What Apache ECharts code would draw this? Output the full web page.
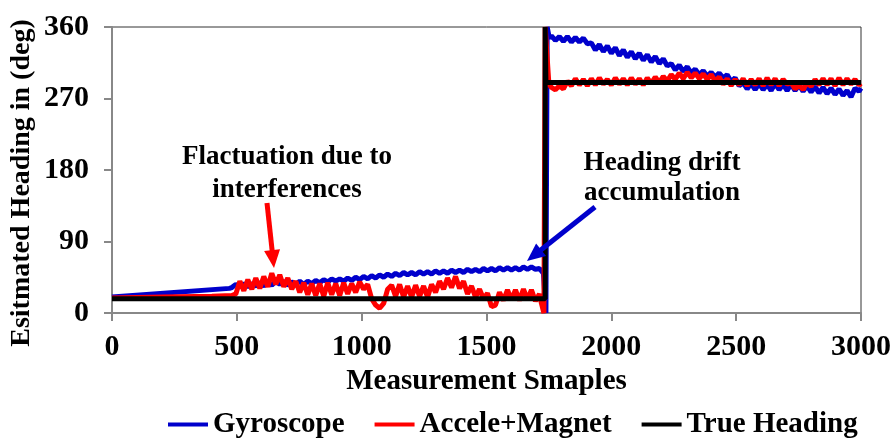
<!DOCTYPE html>
<html>
<head>
<meta charset="utf-8">
<script src="https://cdn.jsdelivr.net/npm/echarts@6/dist/echarts.min.js"></script>
<style>
    html, body {margin: 0; padding: 0; background: #fff;}
    #chart {width: 894px; height: 439px;}
</style>
</head>
<body>
<div id="chart"></div>
<script>
// samples between peak and trough readings
const step = 16;

const x_ticks = [0, 500, 1000, 1500, 2000, 2500, 3000];
const y_ticks = [0, 90, 180, 270, 360];

// Gyroscope
const gyro_pre = [[0, 20], [470, 31]];
const gyro_left_start = 480;
const gyro_left = [
    32, 36, 33, 37, 33, 37, 34, 38, 34, 39,
    35, 40, 36, 40, 35, 39, 36, 40, 36, 40,
    37, 41, 38, 42, 39, 43, 40, 43, 40, 44,
    41, 45, 42, 46, 43, 47, 44, 48, 45, 49,
    46, 50, 47, 51, 48, 51, 48, 52, 49, 52,
    49, 53, 50, 53, 50, 54, 51, 54, 51, 55,
    52, 55, 52, 56, 53, 56, 53, 57, 54, 57,
    54, 57, 54, 58, 55, 58, 55, 56
];
const gyro_jump = [[1728, 50], [1738, 0], [1741, 0], [1743, 360], [1752, 346]];
const gyro_right_start = 1760;
const gyro_right = [
    349, 343, 348, 342, 348, 341, 347, 341, 346, 339,
    340, 331, 338, 329, 336, 327, 334, 324, 331, 322,
    329, 320, 327, 318, 325, 316, 323, 314, 320, 311,
    314, 306, 312, 304, 310, 302, 307, 300, 305, 298,
    303, 297, 302, 296, 300, 291, 296, 286, 290, 282,
    289, 281, 289, 281, 288, 280, 289, 281, 288, 280,
    288, 280, 287, 279, 286, 278, 285, 277, 284, 276,
    283, 275, 282, 274, 280, 272, 283, 279
];
const gyro_end = [[3000, 283]];

// Accele+Magnet
const accel_pre = [[0, 19], [200, 20], [400, 21], [480, 22]];
const accel_left_start = 496;
const accel_left = [
    24, 40, 28, 42, 30, 44, 31, 46, 33, 50,
    36, 48, 33, 44, 30, 40, 26, 38, 23, 37,
    22, 37, 21, 38, 23, 37, 22, 38, 24, 37,
    26, 39, 30, 36, 18, 10, 6, 12, 30, 35,
    21, 36, 20, 34, 20, 35, 21, 34, 20, 36,
    26, 40, 30, 44, 32, 46, 31, 40, 24, 34,
    20, 30, 18, 25, 8, 10, 26, 16, 29, 17,
    29, 16, 30, 17, 29, 15, 24
];
const accel_jump = [[1720, 12], [1730, 0], [1735, 360], [1750, 288]];
const accel_right_start = 1760;
const accel_right = [
    284, 281, 286, 282, 292, 286, 295, 287, 294, 286,
    295, 287, 296, 288, 294, 287, 296, 288, 295, 287,
    296, 288, 295, 287, 296, 289, 297, 290, 298, 292,
    300, 294, 302, 295, 303, 296, 302, 295, 301, 294,
    300, 292, 297, 288, 295, 286, 294, 287, 295, 286,
    294, 287, 295, 286, 296, 287, 295, 286, 294, 288,
    290, 282, 287, 281, 290, 285, 294, 287, 295, 287,
    295, 286, 296, 287, 295, 288, 294, 287
];
const accel_end = [[3000, 289]];

// True Heading
const truth = [[0, 18], [1735, 18], [1735, 360], [1738, 290], [3000, 290]];

function build_series(pre, start, vals, jump, right_start, right_vals, end) {
    let data = pre.slice();
    vals.forEach((v, i) => data.push([start + i * step, v]));
    jump.forEach((p) => data.push(p));
    right_vals.forEach((v, i) => data.push([right_start + i * step, v]));
    end.forEach((p) => data.push(p));
    return data;
}

const gyro_data = build_series(gyro_pre, gyro_left_start, gyro_left, gyro_jump, gyro_right_start, gyro_right, gyro_end);
const accel_data = build_series(accel_pre, accel_left_start, accel_left, accel_jump, accel_right_start, accel_right, accel_end);

const font = "'Liberation Serif', 'Times New Roman', serif";
const txt = {fontFamily: font, fontWeight: 'bold', color: '#000'};

function arrow(x1, y1, x2, y2, color) {
    // shaft plus triangular head, in pixels of the annotation layer
    const dx = x2 - x1, dy = y2 - y1;
    const len = Math.sqrt(dx * dx + dy * dy);
    const ux = dx / len, uy = dy / len;
    const bx = x2 - ux * 18, by = y2 - uy * 18;
    const px = -uy * 8, py = ux * 8;
    return [{
        type: 'line', silent: true, z: 100,
        shape: {x1: x1, y1: y1, x2: bx + ux * 2, y2: by + uy * 2},
        style: {stroke: color, lineWidth: 5}
    }, {
        type: 'polygon', silent: true, z: 100,
        shape: {points: [[bx + px, by + py], [bx - px, by - py], [x2, y2]]},
        style: {fill: color}
    }];
}

function note(text, x, y) {
    return {
        type: 'text', x: x, y: y,
        style: {text: text, fontSize: 27, fontFamily: font, fontWeight: 'bold',
            fill: '#000', align: 'center', verticalAlign: 'middle'}
    };
}

let option = {
    animation: false,
    backgroundColor: '#fff',
    grid: {
        left: 112, right: 32, top: 27, bottom: 126,
        show: true, borderColor: '#333', borderWidth: 1
    },
    legend: {
        left: 163, top: 405,
        itemWidth: 40, itemHeight: 4, itemGap: 30,
        icon: 'rect',
        textStyle: {fontFamily: font, fontWeight: 'bold', fontSize: 29, color: '#000'},
        data: ['Gyroscope', 'Accele+Magnet', 'True Heading']
    },
    xAxis: {
        type: 'value', min: 0, max: 3000, interval: 500,
        name: 'Measurement Smaples', nameLocation: 'middle', nameGap: 49,
        nameTextStyle: Object.assign({fontSize: 29}, txt),
        axisLine: {lineStyle: {color: '#888', width: 2}},
        axisTick: {length: 8, lineStyle: {color: '#888', width: 2}},
        axisLabel: Object.assign({fontSize: 30, margin: 19, formatter: (v) => String(v)}, txt),
        splitLine: {show: false}
    },
    yAxis: {
        type: 'value', min: 0, max: 360, interval: 90,
        axisLine: {show: true, lineStyle: {color: '#888', width: 2}},
        axisTick: {show: true, length: 8, lineStyle: {color: '#888', width: 2}},
        axisLabel: Object.assign({fontSize: 30, margin: 23, formatter: (v) => String(v)}, txt),
        splitLine: {show: false}
    },
    series: [{
        name: 'Gyroscope', type: 'line', data: gyro_data, showSymbol: false,
        lineStyle: {color: '#0000CC', width: 5}, itemStyle: {color: '#0000CC'}, z: 2
    }, {
        name: 'Accele+Magnet', type: 'line', data: accel_data, showSymbol: false,
        lineStyle: {color: '#FF0000', width: 5}, itemStyle: {color: '#FF0000'}, z: 3
    }, {
        name: 'True Heading', type: 'line', data: truth, showSymbol: false,
        lineStyle: {color: '#000', width: 5}, itemStyle: {color: '#000'}, z: 4
    }],
    graphic: [
        {
            type: 'text', x: 22, y: 183, rotation: Math.PI / 2,
            style: {text: 'Esitmated Heading in (deg)', fontSize: 28, fontFamily: font, fontWeight: 'bold',
                fill: '#000', align: 'center', verticalAlign: 'middle'}
        },
        note('Flactuation due to', 287, 157),
        note('interferences', 287, 190),
        note('Heading drift', 662, 163),
        note('accumulation', 662, 193)
    ].concat(arrow(267, 203, 274, 268, '#FF0000'), arrow(595, 207, 527, 261, '#0000CC'))
};

let my_chart = echarts.init(document.getElementById('chart'), null, {renderer: 'canvas'});
my_chart.setOption(option);
</script>
</body>
</html>
